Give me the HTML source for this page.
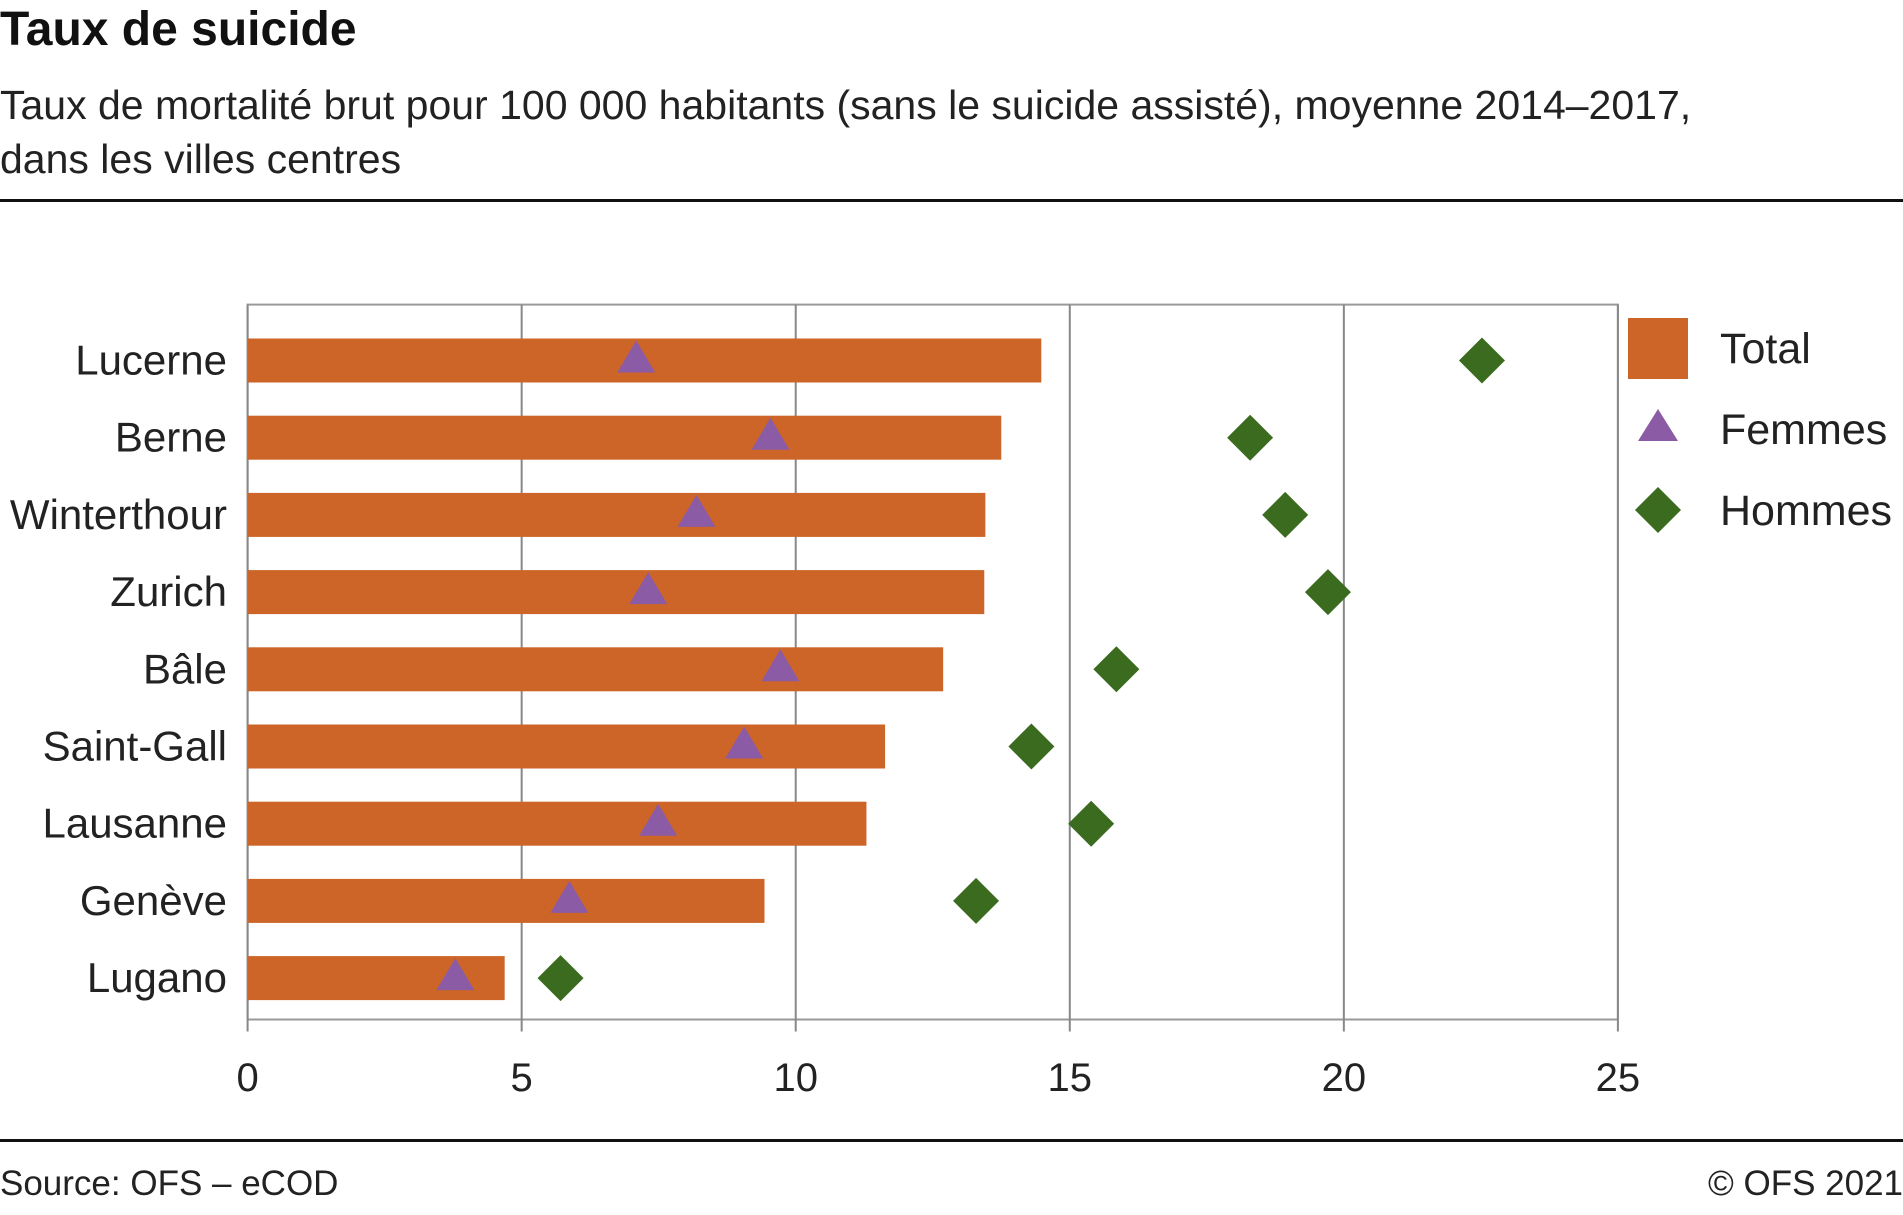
<!DOCTYPE html>
<html><head><meta charset="utf-8"><style>
body{margin:0;background:#fff;width:1903px;height:1210px;overflow:hidden;font-family:"Liberation Sans",sans-serif}
</style></head><body>
<svg id="chart" width="1903" height="1210" viewBox="0 0 1903 1210" xmlns="http://www.w3.org/2000/svg" font-family="Liberation Sans, sans-serif">
<text x="0" y="45" font-size="48" font-weight="bold" fill="#111">Taux de suicide</text>
<text x="0" y="119" font-size="41" fill="#222">Taux de mortalité brut pour 100 000 habitants (sans le suicide assisté), moyenne 2014–2017,</text>
<text x="0" y="173" font-size="41" fill="#222">dans les villes centres</text>
<rect x="0" y="199" width="1903" height="3" fill="#111"/>
<rect x="0" y="1139" width="1903" height="3" fill="#111"/>
<text x="0" y="1195" font-size="35" fill="#222">Source: OFS – eCOD</text>
<text x="1903" y="1195" font-size="35" fill="#222" text-anchor="end">© OFS 2021</text>
<g id="plot"></g>
<g>
<rect x="1628" y="318" width="60" height="61" fill="#CC6527"/>
<text x="1720" y="363" font-size="43" fill="#222">Total</text>
<polygon points="1658,409 1638,441 1678,441" fill="#8C5BA5"/>
<text x="1720" y="444" font-size="43" fill="#222">Femmes</text>
<polygon points="1658,487 1681,510 1658,533 1635,510" fill="#3A6B1E"/>
<text x="1720" y="525" font-size="43" fill="#222">Hommes</text>
</g>
</svg>
<script>
const categories=["Lucerne","Berne","Winterthour","Zurich","Bâle","Saint-Gall","Lausanne","Genève","Lugano"];
const totalValues=[14.48,13.75,13.46,13.44,12.69,11.63,11.29,9.43,4.69];
const femmesValues=[7.09,9.54,8.19,7.31,9.72,9.06,7.49,5.87,3.79];
const hommesValues=[22.52,18.29,18.93,19.71,15.85,14.30,15.39,13.29,5.71];
const tickValues=[0,5,10,15,20,25];
const NS="http://www.w3.org/2000/svg";
const L=247.6,R=1617.9,T=304.6,B=1019.5,xMax=25;
const x=v=>L+(v/xMax)*(R-L);
const step=77.2, y0=360.5;
const y=i=>y0+i*step;
const g=document.getElementById('plot');
function mk(tag,attrs){const e=document.createElementNS(NS,tag);for(const k in attrs)e.setAttribute(k,attrs[k]);g.appendChild(e);return e;}
let f=mk('rect',{x:L,y:T,width:R-L,height:B-T,fill:'none',stroke:'#999','stroke-width':2});


tickValues.forEach(t=>{
 let ln=mk('line',{x1:x(t),x2:x(t),y1:T,y2:B+12,stroke:'#888','stroke-width':2});
 
 
 let tx=mk('text',{x:x(t),y:1091,'font-size':40,'text-anchor':'middle',fill:'#222'});
 tx.textContent=t;
 
 
});
categories.forEach((c,i)=>{
 const cy=y(i);
 let lb=mk('text',{x:227,y:cy+14,'font-size':42,'text-anchor':'end',fill:'#222'});
 lb.textContent=c;
 
 
 let b=mk('rect',{x:L,y:cy-22,width:x(totalValues[i])-L,height:44,fill:'#CC6527'});
 
 
 const fx=x(femmesValues[i]);
 let tr=mk('polygon',{points:`${fx},${cy-20} ${fx-19},${cy+12} ${fx+19},${cy+12}`,fill:'#8C5BA5'});
 
 
 const hx=x(hommesValues[i]);
 let d=mk('polygon',{points:`${hx},${cy-23} ${hx+23},${cy} ${hx},${cy+23} ${hx-23},${cy}`,fill:'#3A6B1E'});
 
 
});
</script>
</body></html>
